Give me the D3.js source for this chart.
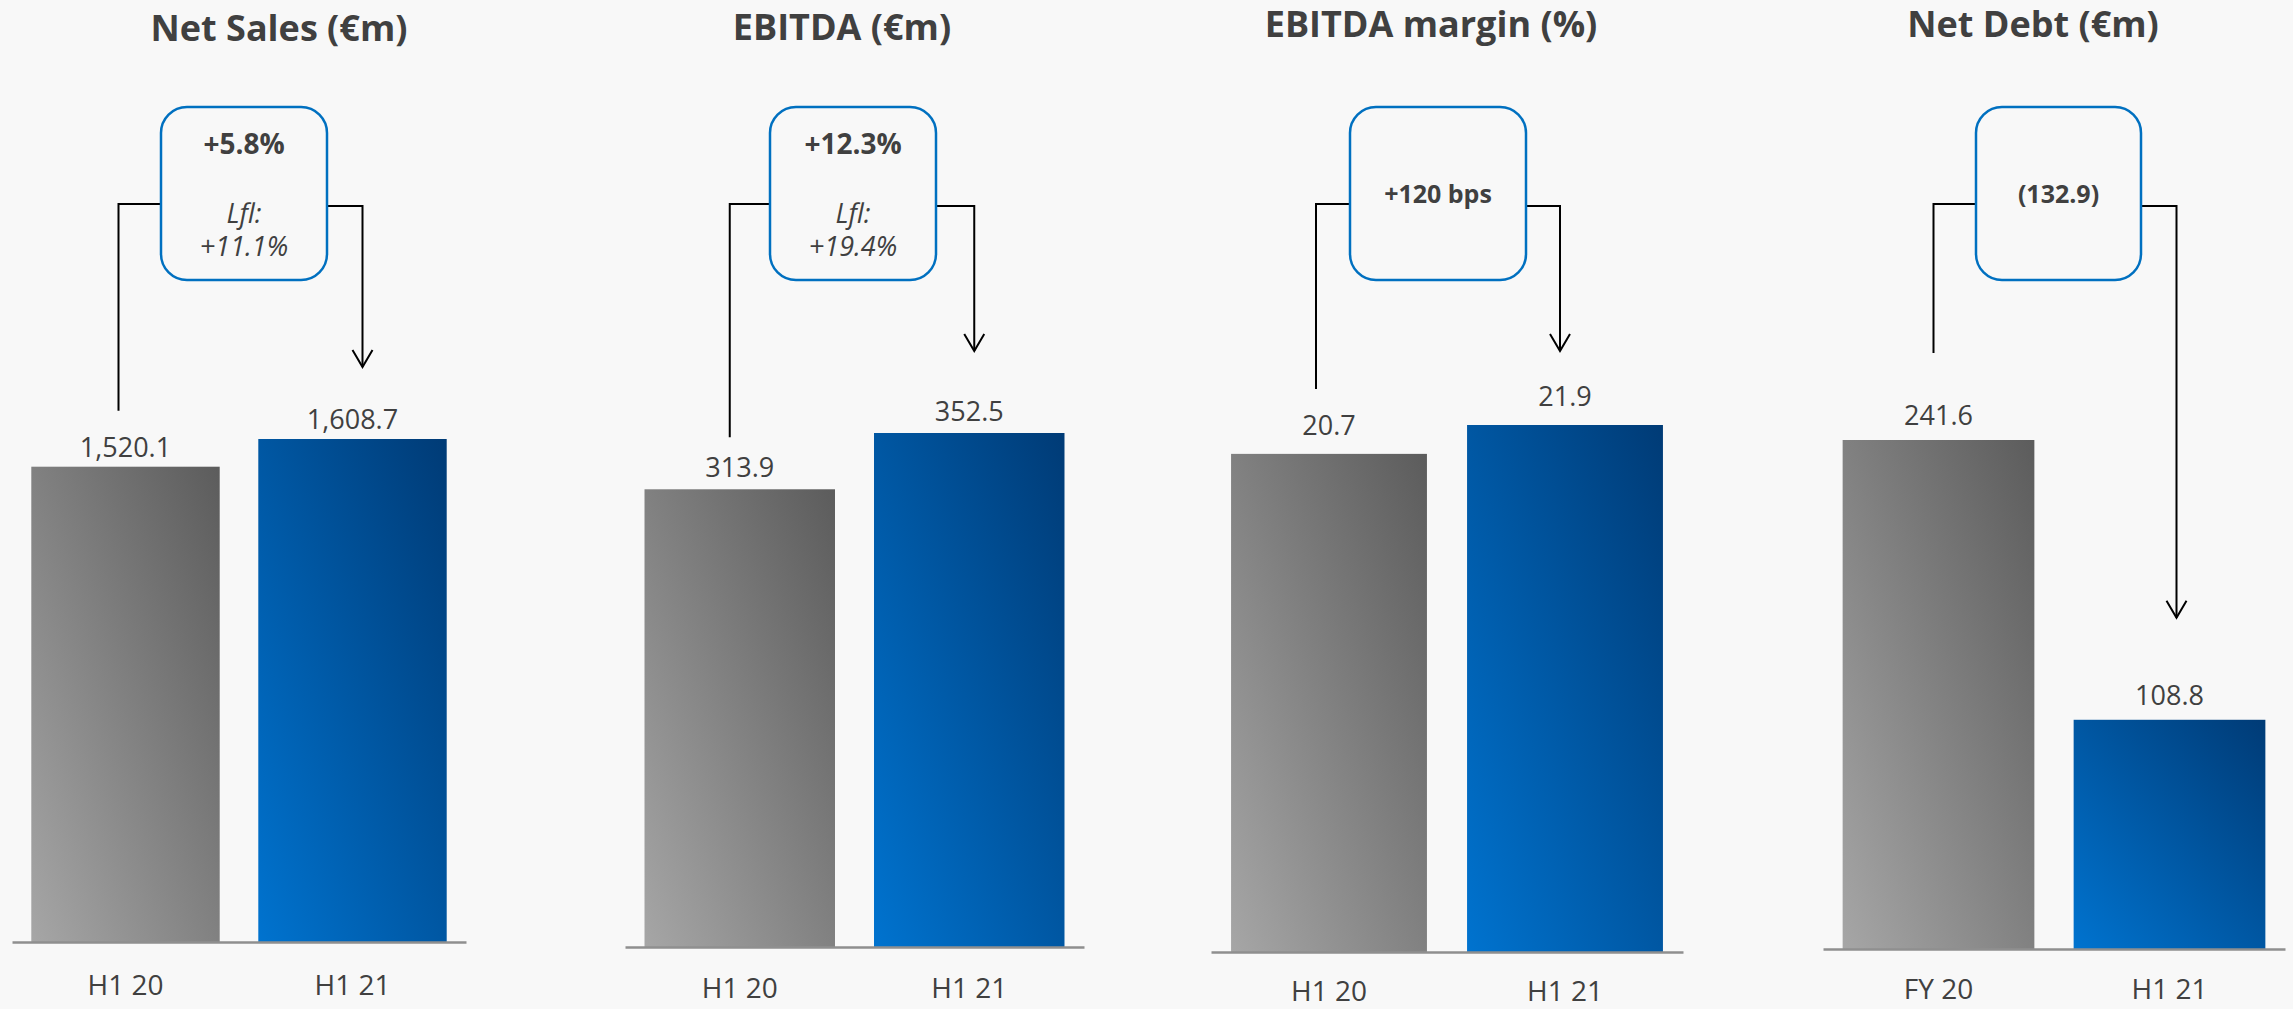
<!DOCTYPE html>
<html>
<head>
<meta charset="utf-8">
<script src="https://cdn.jsdelivr.net/npm/d3@7"></script>
<style>
    body { margin: 0; background: #f8f8f8; overflow: hidden; }
    svg { display: block; font-family: "Open Sans", "Noto Sans", sans-serif; }
</style>
</head>
<body>
<svg id="chart"></svg>
<script>
// chart data
const panelTitles = ["Net Sales (€m)", "EBITDA (€m)", "EBITDA margin (%)", "Net Debt (€m)"]
const categories = [["H1 20", "H1 21"], ["H1 20", "H1 21"], ["H1 20", "H1 21"], ["FY 20", "H1 21"]]
const values = [[1520.1, 1608.7], [313.9, 352.5], [20.7, 21.9], [241.6, 108.8]]
const changeLabels = ["+5.8%", "+12.3%", "+120 bps", "(132.9)"]
const lflLabels = ["+11.1%", "+19.4%", null, null]

// layout of each panel (axis span, baseline, height of tallest bar, box, connector offsets)
const layout = [
    {x0: 12, x1: 466, base: 942, top: 439, titleX: 279, titleY: 41, box: [161, 327], dx: [-7, 10], lineGap: 56, arrowGap: 72, labelGap: 10, catPad: 33},
    {x0: 625, x1: 1084, base: 947, top: 433, titleX: 842, titleY: 40, box: [770, 936], dx: [-10, 5], lineGap: 52, arrowGap: 82, labelGap: 12, catPad: 31},
    {x0: 1211, x1: 1683, base: 952, top: 425, titleX: 1431, titleY: 37, box: [1350, 1526], dx: [-13, -5], lineGap: 65, arrowGap: 74, labelGap: 19, catPad: 29},
    {x0: 1823, x1: 2285, base: 949, top: 440, titleX: 2033, titleY: 37, box: [1976, 2141], dx: [-5, 7], lineGap: 87, arrowGap: 102, labelGap: 15, catPad: 30}
]

const width = 2293
const height = 1009
const textColor = "#404040"
const boxTop = 107
const boxBottom = 280

const svg = d3.select("#chart")
    .attr("width", width)
    .attr("height", height)

svg.append("rect")
    .attr("width", width)
    .attr("height", height)
    .attr("fill", "#f8f8f8")

// diagonal gradients, light at bottom-left and dark at top-right
const defs = svg.append("defs")
const gradients = [
    {id: "greyGrad", from: "#a6a6a6", to: "#5c5c5c"},
    {id: "blueGrad", from: "#0073cf", to: "#003b76"}
]
gradients.forEach(g => {
    const lg = defs.append("linearGradient")
        .attr("id", g.id)
        .attr("x1", 0).attr("y1", 1)
        .attr("x2", 1).attr("y2", 0)
    lg.append("stop").attr("offset", "0%").attr("stop-color", g.from)
    lg.append("stop").attr("offset", "100%").attr("stop-color", g.to)
})

panelTitles.forEach((title, i) => {
    const L = layout[i]
    const cats = categories[i]
    const vals = values[i]
    const g = svg.append("g")

    // scales for this panel
    const xScale = d3.scaleBand()
        .domain(cats)
        .range([L.x0, L.x1])
        .paddingInner(0.17)
        .paddingOuter(0.085)

    const yScale = d3.scaleLinear()
        .domain([0, d3.max(vals)])
        .range([L.base, L.top])

    const center = c => xScale(c) + xScale.bandwidth() / 2

    // title
    g.append("text")
        .attr("x", L.titleX)
        .attr("y", L.titleY)
        .attr("text-anchor", "middle")
        .attr("font-size", 36)
        .attr("font-weight", "bold")
        .attr("fill", textColor)
        .text(title)

    // bars
    g.selectAll("rect.bar")
        .data(vals)
        .enter()
        .append("rect")
            .attr("class", "bar")
            .attr("x", (d, j) => xScale(cats[j]))
            .attr("y", d => yScale(d))
            .attr("width", xScale.bandwidth())
            .attr("height", d => L.base - yScale(d))
            .attr("fill", (d, j) => j === 0 ? "url(#greyGrad)" : "url(#blueGrad)")

    // baseline axis, no ticks
    const xAxis = d3.axisBottom(xScale).tickSize(0).tickPadding(L.catPad)
    const axisG = g.append("g")
        .attr("transform", `translate(0,${L.base})`)
        .call(xAxis)
    axisG.select(".domain")
        .attr("stroke", "#8f8f8f")
        .attr("stroke-width", 2.5)
    axisG.selectAll("text")
        .attr("font-size", 28)
        .attr("font-family", "'Open Sans', 'Noto Sans', sans-serif")
        .attr("fill", textColor)

    // value labels
    g.selectAll("text.val")
        .data(vals)
        .enter()
        .append("text")
            .attr("class", "val")
            .attr("x", (d, j) => center(cats[j]))
            .attr("y", d => yScale(d) - L.labelGap)
            .attr("text-anchor", "middle")
            .attr("font-size", 27)
            .attr("fill", textColor)
            .text(d => d3.format(",.1f")(d))

    // connector from first bar into the box, then out of the box down to second bar
    const leftX = center(cats[0]) + L.dx[0]
    const rightX = center(cats[1]) + L.dx[1]
    const lineEnd = yScale(vals[0]) - L.lineGap
    const arrowTip = yScale(vals[1]) - L.arrowGap

    g.append("path")
        .attr("d", `M${leftX},${lineEnd}V204H${L.box[0]}`)
        .attr("fill", "none")
        .attr("stroke", "#000")
        .attr("stroke-width", 2)

    g.append("path")
        .attr("d", `M${L.box[1]},206H${rightX}V${arrowTip}`)
        .attr("fill", "none")
        .attr("stroke", "#000")
        .attr("stroke-width", 2)

    g.append("path")
        .attr("d", `M${rightX - 10},${arrowTip - 17}L${rightX},${arrowTip}L${rightX + 10},${arrowTip - 17}`)
        .attr("fill", "none")
        .attr("stroke", "#000")
        .attr("stroke-width", 2)

    // change box
    g.append("rect")
        .attr("x", L.box[0])
        .attr("y", boxTop)
        .attr("width", L.box[1] - L.box[0])
        .attr("height", boxBottom - boxTop)
        .attr("rx", 26)
        .attr("fill", "#f8f8f8")
        .attr("stroke", "#0070c0")
        .attr("stroke-width", 2.5)

    const boxCx = (L.box[0] + L.box[1]) / 2
    const hasLfl = lflLabels[i] !== null

    g.append("text")
        .attr("x", boxCx)
        .attr("y", hasLfl ? 154 : 203)
        .attr("text-anchor", "middle")
        .attr("font-size", hasLfl ? 28 : 25)
        .attr("font-weight", "bold")
        .attr("fill", textColor)
        .text(changeLabels[i])

    if (hasLfl) {
        g.append("text")
            .attr("x", boxCx)
            .attr("y", 223)
            .attr("text-anchor", "middle")
            .attr("font-size", 27)
            .attr("font-style", "italic")
            .attr("fill", textColor)
            .text("Lfl:")
        g.append("text")
            .attr("x", boxCx)
            .attr("y", 256)
            .attr("text-anchor", "middle")
            .attr("font-size", 27)
            .attr("font-style", "italic")
            .attr("fill", textColor)
            .text(lflLabels[i])
    }
})
</script>
</body>
</html>
